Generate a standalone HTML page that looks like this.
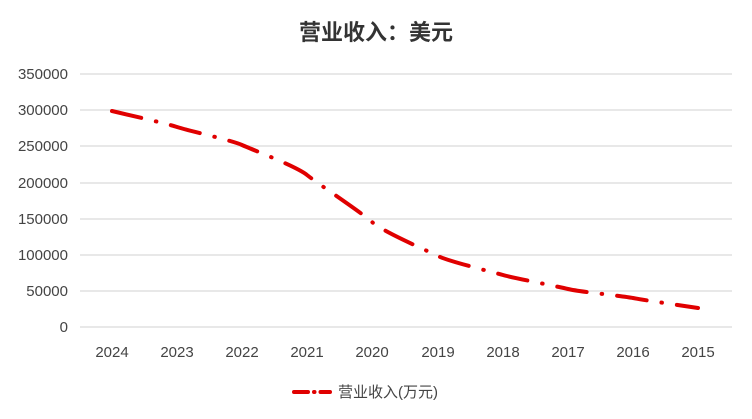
<!DOCTYPE html><html><head><meta charset="utf-8"><style>body{margin:0;background:#fff}svg{display:block}</style></head><body>
<svg width="752" height="419" xmlns="http://www.w3.org/2000/svg" font-family="'Liberation Sans','Noto Sans CJK SC',sans-serif">
<rect width="752" height="419" fill="#fff"/>
<text x="376" y="40" text-anchor="middle" font-size="22" font-weight="bold" fill="#333" font-family="'Noto Sans CJK SC',sans-serif">营业收入：美元</text>
<g stroke="#d9d9d9" stroke-width="1.3">
<line x1="80" x2="732" y1="74" y2="74"/><line x1="80" x2="732" y1="110" y2="110"/><line x1="80" x2="732" y1="146" y2="146"/><line x1="80" x2="732" y1="183" y2="183"/><line x1="80" x2="732" y1="219" y2="219"/><line x1="80" x2="732" y1="255" y2="255"/><line x1="80" x2="732" y1="291" y2="291"/><line x1="80" x2="732" y1="327" y2="327"/>
</g>
<g font-size="15" fill="#444" text-anchor="end">
<text x="68" y="79">350000</text><text x="68" y="115">300000</text><text x="68" y="151">250000</text><text x="68" y="188">200000</text><text x="68" y="224">150000</text><text x="68" y="260">100000</text><text x="68" y="296">50000</text><text x="68" y="332">0</text>
</g>
<g font-size="15" fill="#444" text-anchor="middle">
<text x="112" y="357">2024</text><text x="177" y="357">2023</text><text x="242" y="357">2022</text><text x="307" y="357">2021</text><text x="372" y="357">2020</text><text x="438" y="357">2019</text><text x="503" y="357">2018</text><text x="568" y="357">2017</text><text x="633" y="357">2016</text><text x="698" y="357">2015</text>
</g>
<path d="M112,111 C122.8,113.7 166,123.3 177,127 C188,130.7 231,140 242,145 C253,150 296,166.2 307,175 C318,183.8 361,212.2 372,222 C383,231.8 427,250.5 438,256 C449,261.5 492,271.8 503,275 C514,278.2 557,286.2 568,289 C579,291.8 622,295.8 633,298 C644,300.2 687,306.3 698,308" fill="none" stroke="#e00000" stroke-width="4" stroke-linecap="round" stroke-dasharray="30 15 0.5 15"/>
<line x1="294" y1="392" x2="330" y2="392" stroke="#e00000" stroke-width="4" stroke-linecap="round" stroke-dasharray="14 6 0.5 6"/>
<text x="338" y="397" font-size="15" fill="#444">营业收入(万元)</text>
</svg>
</body></html>
